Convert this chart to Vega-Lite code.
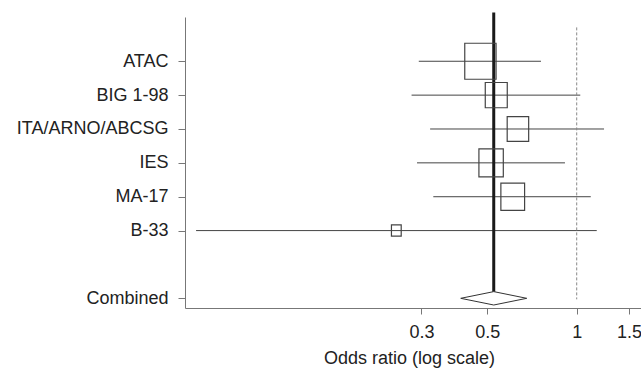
{
  "$schema": "https://vega.github.io/schema/vega-lite/v6.json",
  "width": 456,
  "height": 291,
  "autosize": "none",
  "padding": {"left": 185, "top": 17, "right": 0, "bottom": 60},
  "background": "white",
  "config": {
    "view": {"stroke": null},
    "font": "Liberation Sans",
    "axis": {"grid": false, "domainColor": "#777", "tickColor": "#777", "labelColor": "#222", "titleColor": "#222", "labelFontSize": 18, "titleFontSize": 18, "titleFontWeight": "normal", "labelFont": "Liberation Sans", "titleFont": "Liberation Sans"}
  },
  "data": {
    "values": [
      {"study": "ATAC", "row": 1, "or": 0.474, "lo": 0.294, "hi": 0.758, "weight": 30.8},
      {"study": "BIG 1-98", "row": 2, "or": 0.536, "lo": 0.278, "hi": 1.028, "weight": 15.2},
      {"study": "ITA/ARNO/ABCSG", "row": 3, "or": 0.634, "lo": 0.321, "hi": 1.236, "weight": 14.5},
      {"study": "IES", "row": 4, "or": 0.515, "lo": 0.290, "hi": 0.913, "weight": 18.7},
      {"study": "MA-17", "row": 5, "or": 0.609, "lo": 0.329, "hi": 1.115, "weight": 17.7},
      {"study": "B-33", "row": 6, "or": 0.247, "lo": 0.0523, "hi": 1.168, "weight": 3.0},
      {"study": "Combined", "row": 8, "or": 0.5256, "lo": 0.407, "hi": 0.679, "weight": 100}
    ]
  },
  "layer": [
    {
      "transform": [{"filter": "datum.row < 8"}],
      "mark": {"type": "rule", "color": "#444", "strokeWidth": 1},
      "encoding": {
        "x": {
          "field": "lo", "type": "quantitative",
          "scale": {"type": "log", "domain": [0.048, 1.646], "nice": false},
          "axis": {"title": "Odds ratio (log scale)", "values": [0.3, 0.5, 1, 1.5], "format": ".1~f", "tickSize": 6, "labelPadding": 9, "titlePadding": 8, "titleX": 224, "labelFlush": false}
        },
        "x2": {"field": "hi"},
        "y": {
          "field": "row", "type": "quantitative",
          "scale": {"domain": [-0.307, 8.286], "reverse": true, "nice": false, "zero": false},
          "axis": {"title": null, "values": [1, 2, 3, 4, 5, 6, 8], "tickSize": 7, "labelPadding": 10,
            "labelExpr": "datum.value == 1 ? 'ATAC' : datum.value == 2 ? 'BIG 1-98' : datum.value == 3 ? 'ITA/ARNO/ABCSG' : datum.value == 4 ? 'IES' : datum.value == 5 ? 'MA-17' : datum.value == 6 ? 'B-33' : 'Combined'"}
        }
      }
    },
    {
      "data": {"values": [{}]},
      "mark": {"type": "rule", "color": "#888", "strokeWidth": 1, "strokeDash": [3, 2]},
      "encoding": {
        "x": {"datum": 1, "type": "quantitative"},
        "y": {"datum": 0, "type": "quantitative"},
        "y2": {"datum": 8.03}
      }
    },
    {
      "data": {"values": [{}]},
      "mark": {"type": "rule", "color": "#1a1a1a", "strokeWidth": 3},
      "encoding": {
        "x": {"datum": 0.5256, "type": "quantitative"},
        "y": {"datum": -0.44, "type": "quantitative"},
        "y2": {"datum": 7.81}
      }
    },
    {
      "transform": [{"filter": "datum.row < 8"}],
      "mark": {"type": "point", "shape": "M-0.87,-1L0.87,-1L0.87,1L-0.87,1Z", "filled": false, "stroke": "#444", "strokeWidth": 1.2, "opacity": 1},
      "encoding": {
        "x": {"field": "or", "type": "quantitative"},
        "y": {"field": "row", "type": "quantitative"},
        "size": {"field": "weight", "type": "quantitative", "scale": {"domain": [0, 100], "range": [0, 4203]}, "legend": null}
      }
    },
    {
      "transform": [{"filter": "datum.row == 8"}],
      "mark": {"type": "point", "shape": "M-1,0L0,-0.203L1,0L0,0.203Z", "filled": true, "fill": "white", "stroke": "#333", "strokeWidth": 1, "size": 4356, "opacity": 1},
      "encoding": {
        "x": {"field": "or", "type": "quantitative"},
        "y": {"field": "row", "type": "quantitative"}
      }
    }
  ]
}
